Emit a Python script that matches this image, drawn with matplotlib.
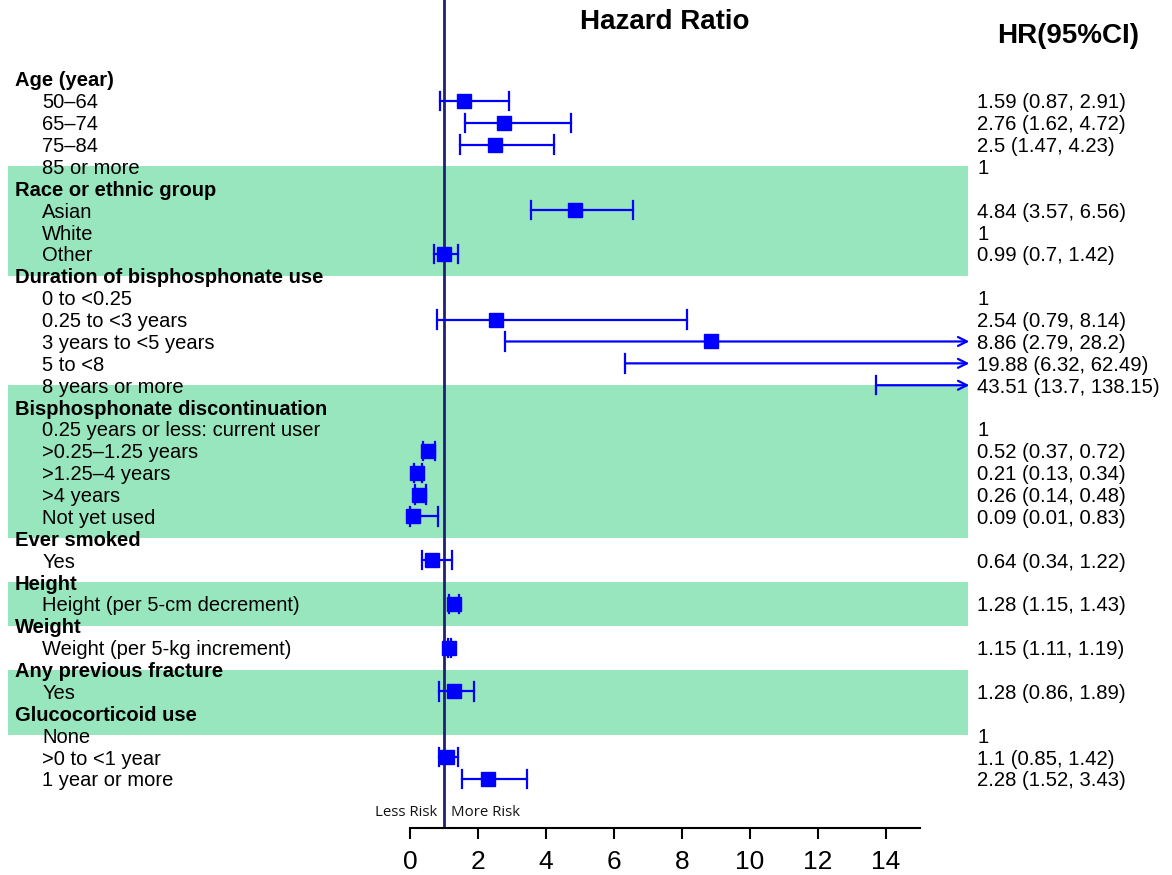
import numpy as np
import matplotlib.pyplot as plt
from matplotlib.transforms import blended_transform_factory

plt.rcParams["font.family"] = ["Liberation Sans", "DejaVu Sans"]

labels = [
    "Age (year)", "50\u201364", "65\u201374", "75\u201384", "85 or more",
    "Race or ethnic group", "Asian", "White", "Other",
    "Duration of bisphosphonate use", "0 to <0.25", "0.25 to <3 years",
    "3 years to <5 years", "5 to <8", "8 years or more",
    "Bisphosphonate discontinuation", "0.25 years or less: current user",
    ">0.25\u20131.25 years", ">1.25\u20134 years", ">4 years", "Not yet used",
    "Ever smoked", "Yes",
    "Height", "Height (per 5-cm decrement)",
    "Weight", "Weight (per 5-kg increment)",
    "Any previous fracture", "Yes",
    "Glucocorticoid use", "None", ">0 to <1 year", "1 year or more",
]
header = [1, 0, 0, 0, 0, 1, 0, 0, 0, 1, 0, 0, 0, 0, 0, 1, 0, 0, 0, 0, 0,
          1, 0, 1, 0, 1, 0, 1, 0, 1, 0, 0, 0]
hr = [None, 1.59, 2.76, 2.5, 1, None, 4.84, 1, 0.99, None, 1, 2.54, 8.86, 19.88, 43.51,
      None, 1, 0.52, 0.21, 0.26, 0.09, None, 0.64, None, 1.28, None, 1.15, None, 1.28,
      None, 1, 1.1, 2.28]
lo = [None, 0.87, 1.62, 1.47, None, None, 3.57, None, 0.7, None, None, 0.79, 2.79, 6.32, 13.7,
      None, None, 0.37, 0.13, 0.14, 0.01, None, 0.34, None, 1.15, None, 1.11, None, 0.86,
      None, None, 0.85, 1.52]
hi = [None, 2.91, 4.72, 4.23, None, None, 6.56, None, 1.42, None, None, 8.14, 28.2, 62.49, 138.15,
      None, None, 0.72, 0.34, 0.48, 0.83, None, 1.22, None, 1.43, None, 1.19, None, 1.89,
      None, None, 1.42, 3.43]
bands = [(4, 9), (14, 21), (23, 25), (27, 30)]

GREEN = "#98E6BD"
BLUE = "#0000FF"
CLIP = 16.45

fig = plt.figure(figsize=(11.72, 8.75), dpi=100)
# axes spans the whole figure; bottom spine sits at the x axis line
ax = fig.add_axes([0, 47 / 875, 1, 1 - 47 / 875])
ax.set_xlim(-12.06, 22.41)
ax.set_ylim(34.24, -3.61)

for a, b in bands:
    ax.fill_between([-11.82, 16.41], a, b, color=GREEN, lw=0, zorder=0)

ax.axvline(1, color="#1F1F7A", lw=2, zorder=2)

for i, lab in enumerate(labels):
    if header[i]:
        ax.text(-11.62, i, lab, fontsize=14.5, fontweight="bold",
                va="center_baseline", ha="left")
    else:
        ax.text(-10.82, i, lab, fontsize=14.5, va="center_baseline", ha="left")
    if hr[i] is None:
        continue
    if lo[i] is None:
        txt = "%g" % hr[i]
    else:
        txt = "%g (%g, %g)" % (hr[i], lo[i], hi[i])
    ax.text(16.68, i, txt, fontsize=14.6, va="center_baseline", ha="left")
    if lo[i] is None:
        continue
    if hi[i] > CLIP:
        ax.annotate("", xy=(CLIP, i), xytext=(lo[i], i),
                    arrowprops=dict(arrowstyle="->", color=BLUE, lw=1.6,
                                    mutation_scale=16, shrinkA=0, shrinkB=0), zorder=3)
    else:
        ax.plot([lo[i], hi[i]], [i, i], color=BLUE, lw=1.6, zorder=3)
        ax.plot([hi[i], hi[i]], [i - 0.42, i + 0.42], color=BLUE, lw=1.6, zorder=3)
    ax.plot([lo[i], lo[i]], [i - 0.42, i + 0.42], color=BLUE, lw=1.6, zorder=3)
    if hr[i] < CLIP:
        ax.plot(hr[i], i, marker="s", ms=10, color=BLUE, zorder=4)

for s in ["top", "right", "left"]:
    ax.spines[s].set_visible(False)
ax.spines["bottom"].set_bounds(0, 15)
ax.spines["bottom"].set_linewidth(1.5)
ax.set_xticks(np.arange(0, 15, 2))
ax.tick_params(axis="x", length=8, width=1.5, pad=8, labelsize=19)
ax.set_yticks([])

trans = blended_transform_factory(ax.transData, fig.transFigure)
ax.text(0.8, 1 - 813 / 875, "Less Risk", transform=trans, fontsize=10.8,
        family="Open Sans", ha="right", va="center", color="#111111")
ax.text(1.2, 1 - 813 / 875, "More Risk", transform=trans, fontsize=10.8,
        family="Open Sans", ha="left", va="center", color="#111111")

fig.text(665 / 1172, 1 - 22 / 875, "Hazard Ratio", fontsize=20, fontweight="bold",
         ha="center", va="center")
fig.text(1068 / 1172, 1 - 36 / 875, "HR(95%CI)", fontsize=20, fontweight="bold",
         ha="center", va="center")

fig.savefig("out.png", dpi=100)
